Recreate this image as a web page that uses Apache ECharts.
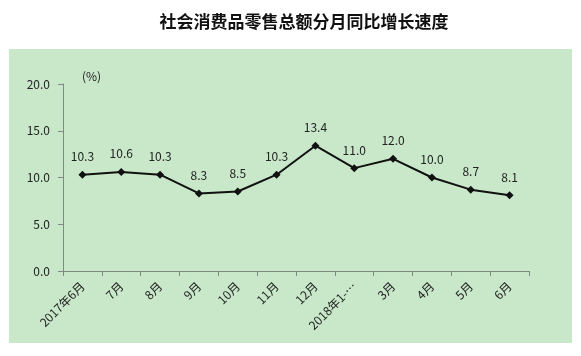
<!DOCTYPE html>
<html><head><meta charset="utf-8">
<script src="https://cdn.jsdelivr.net/npm/echarts@6/dist/echarts.min.js"></script>
<style>html,body{margin:0;padding:0;background:#fff}#c{width:581px;height:356px}</style>
</head><body><div id="c"></div>
<script>
const categories = ['2017年6月','7月','8月','9月','10月','11月','12月','2018年1-…','3月','4月','5月','6月'];
const values = [10.3, 10.6, 10.3, 8.3, 8.5, 10.3, 13.4, 11.0, 12.0, 10.0, 8.7, 8.1];
const yTicks = [0, 5, 10, 15, 20];
const titleText = '社会消费品零售总额分月同比增长速度';
const unitText = '(%)';

const chart = echarts.init(document.getElementById('c'), null, {renderer: 'canvas'});
const font = '"Microsoft YaHei","Noto Sans CJK SC",sans-serif';
chart.setOption({
  backgroundColor: '#ffffff',
  animation: false,
  title: {
    text: titleText, left: 299, top: 8, textAlign: 'center',
    textStyle: {fontSize: 17, fontWeight: 'bold', color: '#111', fontFamily: '"Noto Sans CJK SC",sans-serif'}
  },
  graphic: [
    {type: 'rect', shape: {x: 9, y: 49, width: 563, height: 294}, style: {fill: '#c8e8c9'}, z: -10},
    {type: 'text', left: 82, top: 70, style: {text: unitText, fontSize: 12, fill: '#222', fontFamily: font}, z: 10}
  ],
  grid: {left: 63, right: 52, top: 84, bottom: 85},
  xAxis: {
    type: 'category', data: categories, boundaryGap: true,
    axisLine: {lineStyle: {color: '#7f8a80', width: 1}},
    axisTick: {show: true, length: 5, alignWithLabel: false, lineStyle: {color: '#7f8a80'}},
    axisLabel: {rotate: 45, interval: 0, fontSize: 12, color: '#222', margin: 13, fontFamily: font}
  },
  yAxis: {
    type: 'value', min: yTicks[0], max: yTicks[yTicks.length - 1], interval: 5,
    axisLine: {show: true, lineStyle: {color: '#7f8a80'}},
    axisTick: {show: true, length: 5, inside: false, lineStyle: {color: '#7f8a80'}},
    splitLine: {show: false},
    axisLabel: {fontSize: 12, color: '#222', margin: 13, fontFamily: font,
      formatter: v => v.toFixed(1)}
  },
  series: [{
    type: 'line', data: values,
    symbol: 'diamond', symbolSize: 8,
    lineStyle: {color: '#111', width: 2},
    itemStyle: {color: '#111'},
    label: {show: true, position: 'top', distance: 8, fontSize: 12, color: '#222', fontFamily: font,
      formatter: p => p.value.toFixed(1)}
  }]
});
</script></body></html>
